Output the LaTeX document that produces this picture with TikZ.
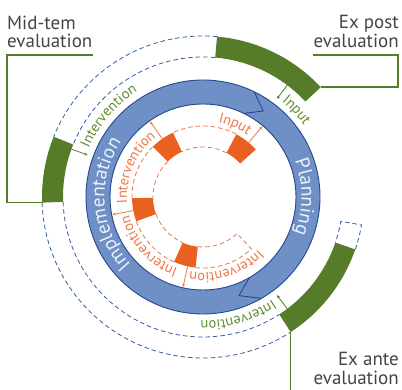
\documentclass[tikz,border=0pt]{standalone}
\usepackage{fontspec}
\setmainfont{PT Sans}
\usetikzlibrary{decorations.text, arrows.meta}
\definecolor{gfill}{RGB}{86,124,42}
\definecolor{gtext}{RGB}{96,140,50}
\definecolor{ofill}{RGB}{234,96,32}
\definecolor{otext}{RGB}{238,118,66}
\definecolor{bfill}{RGB}{110,144,198}
\definecolor{bline}{RGB}{38,72,140}
\definecolor{bdash}{RGB}{52,92,160}
\definecolor{graytext}{RGB}{68,68,68}
\definecolor{btext}{RGB}{236,241,250}
\newcommand\myolab{\fontsize{14.3}{15}\selectfont}
\newcommand\myglab{\fontsize{14.5}{15}\selectfont}
\newcommand\myblab{\fontsize{19.5}{20}\selectfont}
\newcommand\mysector[4]{(#1:#3) arc[start angle=#1, end angle=#2, radius=#3] -- (#2:#4) arc[start angle=#2, end angle=#1, radius=#4] -- cycle}
\tikzset{
  outerdash/.style={draw=bdash, line width=0.8pt, dash pattern=on 4.5pt off 3pt},
  innerdash/.style={draw=otext, line width=0.8pt, dash pattern=on 4.5pt off 3pt},
  gblock/.style={fill=gfill},
  oblock/.style={fill=ofill},
  conn/.style={draw=gfill, line width=1.4pt},
  gtick/.style={draw=gfill, line width=0.8pt, -{Stealth[length=3pt,width=3pt]}},
  otick/.style={draw=otext, line width=0.8pt, -{Stealth[length=3pt,width=3pt]}},
  evaltext/.style={text=graytext, font=\fontsize{19}{19}\selectfont, inner sep=0pt},
}
\begin{document}
\begin{tikzpicture}
\begin{scope}[shift={(203pt,193pt)}]
\useasboundingbox (-203pt,-193pt) rectangle (199pt,197pt);
% outer dashed ring
\draw[outerdash] (85:161pt) arc[start angle=85, end angle=158, radius=161pt];
\draw[outerdash] (85:140pt) arc[start angle=85, end angle=158, radius=140pt];
\draw[outerdash] (182:161pt) arc[start angle=182, end angle=303, radius=161pt];
\draw[outerdash] (182:140pt) arc[start angle=182, end angle=303, radius=140pt];
\draw[outerdash] (-19:161pt) arc[start angle=-19, end angle=-10, radius=161pt] -- (-10:140pt) arc[start angle=-10, end angle=-19, radius=140pt];
% green blocks
\fill[gblock] \mysector{43}{85}{161pt}{140pt};
\fill[gblock] \mysector{158}{182}{161pt}{140pt};
\fill[gblock] \mysector{-57}{-19}{161pt}{140pt};
% connectors
\coordinate (postc) at (43:161pt);
\coordinate (midc) at (182:161pt);
\coordinate (antec) at (-57:161pt);
\coordinate (postL) at (110pt,142pt);
\coordinate (postR) at (195pt,142pt);
\coordinate (midR) at (-110pt,142pt);
\coordinate (midL) at (-196pt,142pt);
\coordinate (anteE) at (0pt,-193pt);
\draw[conn] (postL) -- (postR) |- (postc);
\draw[conn] (midR) -- (midL) |- (midc);
\draw[conn] (antec) -- (antec |- anteE);
% blue ring
\fill[bfill, even odd rule] (0,0) circle (117pt) (0,0) circle (93pt);
\draw[bline, line width=0.9pt] (0,0) circle (117pt);
\draw[bline, line width=0.9pt] (0,0) circle (93pt);
\draw[bline, line width=0.9pt, line join=miter] (64:117pt) -- (55:105pt) -- (64:93pt);
\draw[bline, line width=0.9pt, line join=miter] (-60:93pt) -- (-70:105pt) -- (-60:117pt);
% blue texts
\path[decorate, decoration={text along path, text={|\myblab|Implementation}, text align=center, text color=btext}]
  (250:98.5pt) arc[start angle=250, end angle=119, radius=98.5pt];
\path[decorate, decoration={text along path, text={|\myblab|Planning}, text align=center, text color=btext}]
  (40:98.5pt) arc[start angle=40, end angle=-40, radius=98.5pt];
% orange dashed ring
\draw[innerdash] (62:71pt) arc[start angle=62, end angle=115, radius=71pt];
\draw[innerdash] (62:50pt) arc[start angle=62, end angle=115, radius=50pt];
\draw[innerdash] (135:71pt) arc[start angle=135, end angle=181, radius=71pt];
\draw[innerdash] (135:50pt) arc[start angle=135, end angle=181, radius=50pt];
\draw[innerdash] (200:71pt) arc[start angle=200, end angle=246, radius=71pt];
\draw[innerdash] (200:50pt) arc[start angle=200, end angle=246, radius=50pt];
\draw[innerdash] (264:71pt) arc[start angle=264, end angle=313, radius=71pt] -- (313:50pt) arc[start angle=313, end angle=264, radius=50pt];
% orange blocks
\fill[oblock] \mysector{42}{62}{71pt}{50pt};
\fill[oblock] \mysector{115}{135}{71pt}{50pt};
\fill[oblock] \mysector{181}{200}{71pt}{50pt};
\fill[oblock] \mysector{246}{264}{71pt}{50pt};
% orange ticks
\draw[otick] (50:71pt) -- (50:92pt);
\draw[otick] (125:71pt) -- (125:92pt);
\draw[otick] (191:71pt) -- (191:92pt);
\draw[otick] (257.5:71pt) -- (257.5:92pt);
% orange texts
\path[decorate, decoration={text along path, text={|\myolab|Input}, text align=right, text color=otext}]
  (110:76pt) arc[start angle=110, end angle=54, radius=76pt];
\path[decorate, decoration={text along path, text={|\myolab|Intervention}, text align=right, text color=otext}]
  (215:76pt) arc[start angle=215, end angle=128, radius=76pt];
\path[decorate, decoration={text along path, text={|\myolab|Intervention}, text align=right, text color=otext}]
  (280:76pt) arc[start angle=280, end angle=194, radius=76pt];
\path[decorate, decoration={text along path, text={|\myolab|Intervention}, text align=right, text color=otext}]
  (345:76pt) arc[start angle=345, end angle=260, radius=76pt];
% green ticks
\draw[gtick] (160:140pt) -- (160:123pt);
\draw[gtick] (53:140pt) -- (53:123pt);
\draw[gtick] (-53:140pt) -- (-53:123pt);
% green texts
\path[decorate, decoration={text along path, text={|\myglab|Intervention}, text align=left, text color=gtext}]
  (157:124pt) arc[start angle=157, end angle=100, radius=124pt];
\path[decorate, decoration={text along path, text={|\myglab|Input}, text align=left, text color=gtext}]
  (50.5:124pt) arc[start angle=50.5, end angle=20, radius=124pt];
\path[decorate, decoration={text along path, text={|\myglab|Intervention}, text align=left, text color=gtext}]
  (-56:124pt) arc[start angle=-56, end angle=-115, radius=124pt];
% evaluation labels
\node[evaltext, anchor=base west] (midtA) at (-196pt,167pt) {Mid-tem};
\node[evaltext, anchor=base west] (midtB) at (-196pt,149pt) {evaluation};
\node[evaltext, anchor=base east] (postA) at (196pt,168pt) {Ex post};
\node[evaltext, anchor=base east] (postB) at (196pt,149pt) {evaluation};
\node[evaltext, anchor=base east] (anteA) at (196pt,-169pt) {Ex ante};
\node[evaltext, anchor=base east] (anteB) at (196pt,-188pt) {evaluation};
\end{scope}
\end{tikzpicture}
\end{document}
